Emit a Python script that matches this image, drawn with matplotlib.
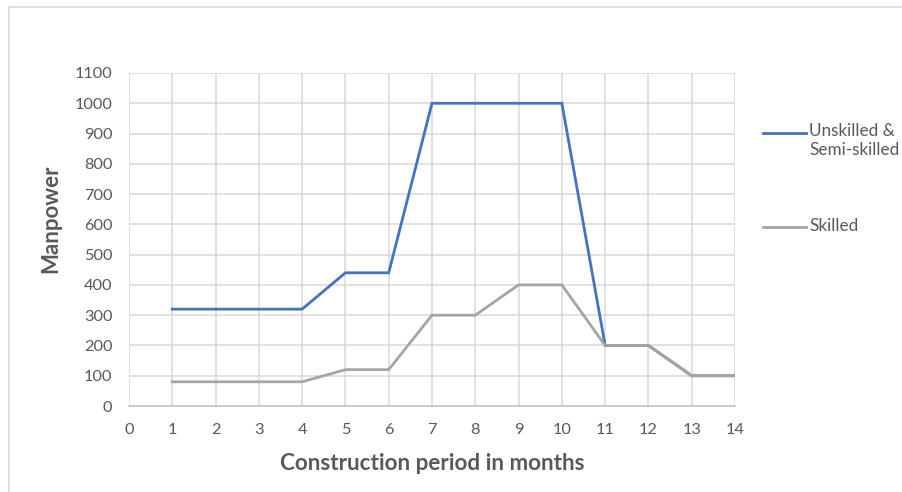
import matplotlib
matplotlib.use("Agg")
import matplotlib.pyplot as plt
from matplotlib.lines import Line2D

months = [1, 2, 3, 4, 5, 6, 7, 8, 9, 10, 11, 12, 13, 14]
unskilled = [320, 320, 320, 320, 440, 440, 1000, 1000, 1000, 1000, 200, 200, 100, 100]
skilled = [80, 80, 80, 80, 120, 120, 300, 300, 400, 400, 200, 200, 100, 100]
series_names = ["Unskilled &\nSemi-skilled", "Skilled"]
x_ticks = list(range(0, 15))
y_ticks = list(range(0, 1101, 100))

BLUE = "#4472C4"
GRAY = "#A5A5A5"
TXT = "#595959"
GRID = "#D9D9D9"

plt.rcParams['font.family'] = ['Lato', 'DejaVu Sans']

W, H = 902, 492
fig = plt.figure(figsize=(W / 100, H / 100), dpi=100)
fig.patch.set_facecolor("white")

x0, x1, y0, y1 = 129, 735, 73, 406
ax = fig.add_axes([x0 / W, 1 - y1 / H, (x1 - x0) / W, (y1 - y0) / H])

ax.plot(months, unskilled, color=BLUE, lw=2.0, solid_joinstyle='miter', zorder=2)
ax.plot(months, skilled, color=GRAY, lw=2.0, solid_joinstyle='miter', zorder=3)

ax.set_xlim(0, 14)
ax.set_ylim(0, 1100)
ax.set_xticks(x_ticks)
ax.set_yticks(y_ticks)
ax.grid(True, color=GRID, lw=1.1, zorder=0)
ax.set_axisbelow(True)
for s in ax.spines.values():
    s.set_visible(False)
ax.spines['bottom'].set_visible(True)
ax.spines['bottom'].set_color("#BFBFBF")
ax.spines['bottom'].set_linewidth(1.1)
ax.tick_params(axis='both', length=0, labelsize=11.8, labelcolor=TXT)
ax.tick_params(axis='x', pad=12)
ax.tick_params(axis='y', pad=12)

ax.set_xlabel("Construction period in months", fontsize=16.2, fontweight='bold', color=TXT)
ax.xaxis.label.set_va('center')
ax.xaxis.set_label_coords((432 - x0) / (x1 - x0), (y1 - 463) / (y1 - y0))
ax.set_ylabel("Manpower", fontsize=16, fontweight='bold', color=TXT)
ax.yaxis.label.set_va('center')
ax.yaxis.set_label_coords((51 - x0) / (x1 - x0), (y1 - 219) / (y1 - y0))

# legend (manual)
for color, ypix, label in [(BLUE, 133, series_names[0]), (GRAY, 227, series_names[1])]:
    fig.add_artist(Line2D([763 / W, 806 / W], [1 - ypix / H] * 2, color=color, lw=2.0,
                          transform=fig.transFigure))
    fig.text(809 / W, 1 - (ypix - 9.5) / H, label, fontsize=12.3, color=TXT, va='top', ha='left',
             linespacing=1.18)

# outer frame lines
fig.add_artist(Line2D([9 / W, 1], [1 - 7 / H] * 2, color=GRID, lw=1.2, transform=fig.transFigure))
fig.add_artist(Line2D([9 / W, 9 / W], [0, 1 - 7 / H], color=GRID, lw=1.2, transform=fig.transFigure))

fig.savefig("out.png", dpi=100, facecolor="white")
